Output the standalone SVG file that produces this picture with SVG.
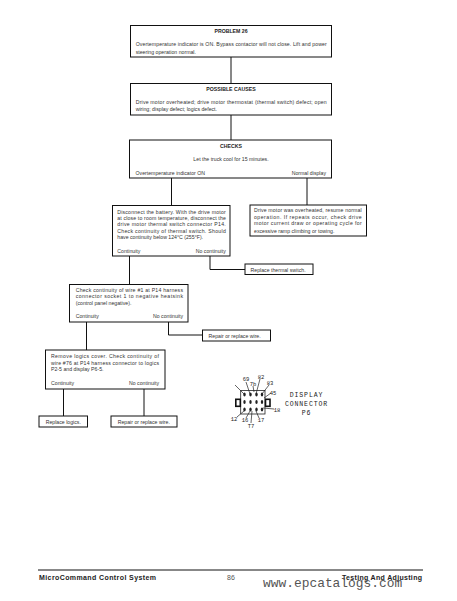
<svg xmlns="http://www.w3.org/2000/svg" width="457" height="601" viewBox="0 0 457 601">
<style>
.b{fill:#fff;stroke:#111;stroke-width:1}
.c{fill:none;stroke:#111;stroke-width:1}
text{font-family:"Liberation Sans",Arial,sans-serif;font-size:5.2px;fill:#333}
.h{font-weight:bold;text-anchor:middle;fill:#222}
.m{text-anchor:middle}
.e{text-anchor:end}
.f{font-size:7px;font-weight:bold;fill:#222}
.d{font-family:"Liberation Mono",monospace;font-size:5.5px;fill:#222;text-anchor:middle}
.t{font-family:"Liberation Mono",monospace;font-size:6.5px;fill:#222;text-anchor:middle;letter-spacing:.9px}
</style>
<rect width="457" height="601" fill="#fff"/>
<g id="connectors" class="c">
<path d="M231 57V83.500M231 115V140M171.500 178V205.500M307 178V205M129.500 256V284.500M210 256V269.500H245M86.500 322V350M168.500 322V335H202.500M63.500 389V416M144 389V416"/>
</g>
<g id="problem"><rect class="b" x="130.500" y="25.500" width="201" height="31.500"/>
<text class="h" x="231" y="32.800">PROBLEM 26</text>
<text x="135.700" y="46" textLength="191">Overtemperature indicator is ON. Bypass contactor will not close. Lift and power</text>
<text x="135.700" y="53.500">steering operation normal.</text></g>
<g id="causes"><rect class="b" x="130.500" y="83.500" width="201" height="31.500"/>
<text class="h" x="231" y="91">POSSIBLE CAUSES</text>
<text x="135.700" y="104" textLength="191">Drive motor overheated; drive motor thermostat (thermal switch) defect; open</text>
<text x="135.700" y="111.200">wiring; display defect; logics defect.</text></g>
<g id="checks"><rect class="b" x="129.500" y="140" width="202" height="38"/>
<text class="h" x="231" y="148">CHECKS</text>
<text class="m" x="231" y="160.800">Let the truck cool for 15 minutes.</text>
<text x="135.500" y="175">Overtemperature indicator ON</text>
<text class="e" x="326" y="175">Normal display</text></g>
<g id="disconnect"><rect class="b" x="112.500" y="205.500" width="117.500" height="50.500"/>
<text x="117.300" y="213.500" textLength="108.500">Disconnect the battery. With the drive motor</text>
<text x="117.300" y="220" textLength="108.500">at close to room temperature, disconnect the</text>
<text x="117.300" y="226.300" textLength="108.500">drive motor thermal switch connector P14.</text>
<text x="117.300" y="232.600" textLength="108.500">Check continuity of thermal switch. Should</text>
<text x="117.300" y="239">have continuity below 124°C (255°F).</text>
<text x="117.300" y="253">Continuity</text>
<text class="e" x="225.800" y="253">No continuity</text></g>
<g id="overheated"><rect class="b" x="250" y="205" width="116.500" height="31"/>
<text x="254" y="212" textLength="107.700">Drive motor was overheated, resume normal</text>
<text x="254" y="218.500" textLength="107.700">operation. If repeats occur, check drive</text>
<text x="254" y="225" textLength="107.700">motor current draw or operating cycle for</text>
<text x="254" y="232.500">excessive ramp climbing or towing.</text></g>
<g id="replace-switch"><rect class="b" x="245" y="264" width="68" height="10.500"/>
<text x="250.500" y="271.500">Replace thermal switch.</text></g>
<g id="wire1"><rect class="b" x="69.500" y="284.500" width="118.500" height="37.500"/>
<text x="75.700" y="292" textLength="107.300">Check continuity of wire #1 at P14 harness</text>
<text x="75.700" y="298" textLength="107.300">connector socket 1 to negative heatsink</text>
<text x="75.700" y="304.500">(control panel negative).</text>
<text x="75.700" y="318">Continuity</text>
<text class="e" x="183" y="318">No continuity</text></g>
<g id="repair1"><rect class="b" x="202.500" y="330" width="68" height="11"/>
<text x="208.500" y="338">Repair or replace wire.</text></g>
<g id="logics"><rect class="b" x="45.500" y="350" width="119.500" height="39"/>
<text x="51" y="358" textLength="108">Remove logics cover. Check continuity of</text>
<text x="51" y="364.500" textLength="108">wire #76 at P14 harness connector to logics</text>
<text x="51" y="371">P2-5 and display P6-5.</text>
<text x="51" y="385">Continuity</text>
<text class="e" x="159" y="385">No continuity</text></g>
<g id="replace-logics"><rect class="b" x="39" y="416" width="48.500" height="11"/>
<text x="45.700" y="424">Replace logics.</text></g>
<g id="repair2"><rect class="b" x="111" y="416" width="66" height="11"/>
<text x="117.700" y="424">Repair or replace wire.</text></g>
<g id="connector-p6">
<rect x="240.700" y="390.500" width="24.300" height="23.500" fill="#fff" stroke="#222" stroke-width=".8"/>
<rect x="235.800" y="399.300" width="4.500" height="7" fill="#fff" stroke="#111" stroke-width="1.600"/>
<rect x="265.500" y="399.300" width="4.500" height="7" fill="#fff" stroke="#111" stroke-width="1.600"/>
<g fill="#222"><ellipse cx="244.500" cy="394.500" rx="1.200" ry="1.900"/><ellipse cx="250.500" cy="394.500" rx="1.200" ry="1.900"/><ellipse cx="256.500" cy="394.500" rx="1.200" ry="1.900"/><ellipse cx="262" cy="394.500" rx="1.200" ry="1.900"/><ellipse cx="244.500" cy="402" rx="1.200" ry="1.900"/><ellipse cx="250.500" cy="402" rx="1.200" ry="1.900"/><ellipse cx="256.500" cy="402" rx="1.200" ry="1.900"/><ellipse cx="262" cy="402" rx="1.200" ry="1.900"/><ellipse cx="244.500" cy="409.500" rx="1.200" ry="1.900"/><ellipse cx="250.500" cy="409.500" rx="1.200" ry="1.900"/><ellipse cx="256.500" cy="409.500" rx="1.200" ry="1.900"/><ellipse cx="262" cy="409.500" rx="1.200" ry="1.900"/></g>
<path d="M235 385L244 394M246 382L250 394M253 386L254 392M260 379L256 394M269 385L262 394M271 393L264 398M274 409L263 408M259 418L256 411M251 423L252 411M246 418L250 411M237 417L244 411" fill="none" stroke="#222" stroke-width=".7"/>
<text class="d" x="246" y="381">69</text><text class="d" x="253" y="386">7b</text><text class="d" x="261" y="379">82</text><text class="d" x="270" y="385">83</text><text class="d" x="273" y="395">45</text><text class="d" x="277" y="412">18</text><text class="d" x="261" y="422">17</text><text class="d" x="251" y="428">T7</text><text class="d" x="245" y="422">16</text><text class="d" x="234" y="421">12</text>
<text class="t" x="306.500" y="396.500">DISPLAY</text><text class="t" x="306.500" y="405.500">CONNECTOR</text><text class="t" x="306.500" y="414.500">P6</text>
</g>
<path d="M38 570H423" stroke="#111" stroke-width="1"/>
<text class="f" x="39" y="580" textLength="117">MicroCommand Control System</text>
<text x="227" y="580" style="font-size:7px;fill:#555">86</text>
<text class="f" x="342" y="580" textLength="80">Testing And Adjusting</text>
<text x="263" y="587" style="font-family:'Liberation Mono',monospace;font-size:12.900px;fill:#555">www.epcatalogs.com</text>
</svg>
